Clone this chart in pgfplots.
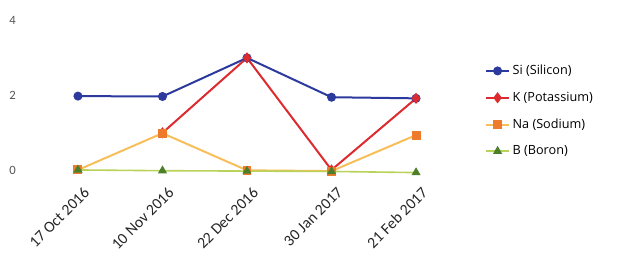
\documentclass[border=0pt]{standalone}
\usepackage{pgfplots}
\pgfplotsset{compat=1.18}
\usepackage{fontspec}
\setmainfont{Carlito}
\newfontfamily\legfont{Open Sans}
\definecolor{siblue}{HTML}{2B3A9C}
\definecolor{kred}{HTML}{DC2A2E}
\definecolor{naline}{HTML}{F7BE5A}
\definecolor{namark}{HTML}{EE7A2C}
\definecolor{bline}{HTML}{B8D25A}
\definecolor{bmark}{HTML}{4C7F2A}
\definecolor{tickgray}{HTML}{555555}
\begin{document}
\begin{tikzpicture}[x=1pt,y=1pt]
\useasboundingbox (-39.45pt,-56.8pt) rectangle (439.8pt,135.9pt);
\begin{axis}[
  scale only axis,
  width=291.6pt, height=120.9pt,
  xmin=-0.3, xmax=4.3, ymin=-0.3, ymax=4,
  axis line style={draw=none},
  major tick length=0pt,
  tick style={draw=none},
  xtick={0,1,2,3,4},
  xticklabels={17 Oct 2016,10 Nov 2016,22 Dec 2016,30 Jan 2017,21 Feb 2017},
  ytick={0,2,4},
  x tick label style={rotate=45, anchor=north east, font=\fontsize{11.8}{13}\selectfont, text=black!85, inner sep=1pt, yshift=-4pt, xshift=1pt},
  yticklabel style={anchor=center, xshift=-30pt, font=\fontsize{9.5}{11}\selectfont, text=tickgray},
  /pgf/number format/assume math mode=true,
  clip=false,
  legend style={draw=none, fill=none, at={(1.112,0.436)}, anchor=west,
    font=\legfont\fontsize{9.5}{11}\selectfont, row sep=7.5pt, inner sep=0pt},
  legend cell align=left,
]
\addplot[siblue, line width=1.5pt, mark=*, mark size=2.6pt] coordinates {(0,1.97) (1,1.96) (2,2.99) (3,1.94) (4,1.91)};
\addlegendentry{Si (Silicon)}
\addplot[kred, line width=1.5pt, mark=diamond*, mark size=3pt] coordinates {(1,0.99) (2,2.99) (3,0.0) (4,1.91)};
\addlegendentry{K (Potassium)}
\addplot[naline, line width=1.5pt, mark=square*, mark size=2.6pt, mark options={namark, fill=namark}] coordinates {(0,0.0) (1,0.98) (2,-0.01) (3,-0.03) (4,0.93)};
\addlegendentry{Na (Sodium)}
\addplot[bline, line width=1.2pt, mark=triangle*, mark size=2.8pt, mark options={bmark, fill=bmark}] coordinates {(0,0.0) (1,-0.02) (2,-0.03) (3,-0.04) (4,-0.07)};
\addlegendentry{B (Boron)}
\end{axis}
\end{tikzpicture}
\end{document}
